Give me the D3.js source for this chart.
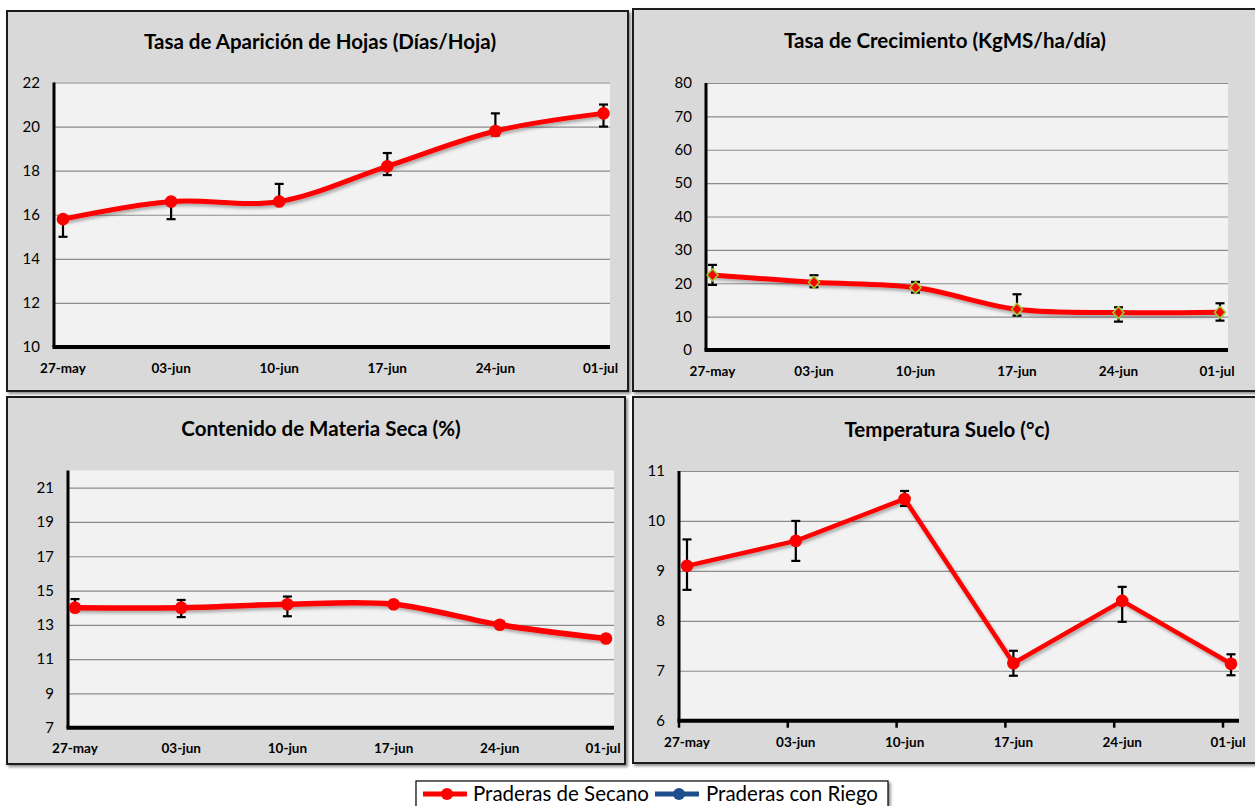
<!DOCTYPE html>
<html>
<head>
<meta charset="utf-8">
<script src="https://cdn.jsdelivr.net/npm/d3@7"></script>
<style>
  body { margin: 0; background: #fff; }
  svg { display: block; font-family: Lato, "Open Sans", sans-serif; }
</style>
</head>
<body>
<svg id="chart" width="1255" height="806"></svg>
<script>
// data
var dates = ["27-may", "03-jun", "10-jun", "17-jun", "24-jun", "01-jul"];

var hojas   = [15.8, 16.6, 16.6, 18.2, 19.8, 20.6];
var hojasHi = [15.8, 16.6, 17.4, 18.8, 20.6, 21.0];
var hojasLo = [15.0, 15.8, 16.6, 17.8, 19.6, 20.0];

var crec   = [22.5, 20.3, 18.7, 12.2, 11.2, 11.3];
var crecHi = [25.5, 22.4, 20.4, 16.7, 12.8, 14.0];
var crecLo = [19.5, 18.8, 17.2, 10.3, 8.5, 8.8];

var materia   = [14.0, 14.0, 14.2, 14.2, 13.0, 12.2];
var materiaHi = [14.5, 14.45, 14.65, 14.35, 13.0, 12.2];
var materiaLo = [14.0, 13.45, 13.5, 14.05, 13.0, 12.2];

var temp   = [9.1, 9.6, 10.44, 7.15, 8.4, 7.14];
var tempHi = [9.63, 10.0, 10.6, 7.4, 8.68, 7.33];
var tempLo = [8.62, 9.2, 10.3, 6.9, 7.98, 6.91];

var ticksHojas = [10, 12, 14, 16, 18, 20, 22];
var ticksCrec = [0, 10, 20, 30, 40, 50, 60, 70, 80];
var ticksMateria = [7, 9, 11, 13, 15, 17, 19, 21];
var ticksTemp = [6, 7, 8, 9, 10, 11];

var seriesNames = ["Praderas de Secano", "Praderas con Riego"];
var seriesColors = ["#ff0000", "#1f4e8c"];

var svg = d3.select("#chart");

var defs = svg.append("defs");
var f = defs.append("filter").attr("id", "shadow")
    .attr("x", "-10%").attr("y", "-20%").attr("width", "130%").attr("height", "150%");
f.append("feDropShadow").attr("dx", 1.5).attr("dy", 2.5).attr("stdDeviation", 1.5)
    .attr("flood-color", "#000").attr("flood-opacity", 0.3);
var fb = defs.append("filter").attr("id", "boxshadow");
fb.append("feDropShadow").attr("dx", 2).attr("dy", 2).attr("stdDeviation", 1.5)
    .attr("flood-color", "#000").attr("flood-opacity", 0.45);

function drawPanel(p) {
  var g = svg.append("g");

  // panel frame
  g.append("rect")
      .attr("x", p.box[0]).attr("y", p.box[1])
      .attr("width", p.box[2]).attr("height", p.box[3])
      .attr("fill", "#d9d9d9")
      .attr("stroke", "#1a1a1a").attr("stroke-width", 2)
      .attr("filter", "url(#boxshadow)");

  g.append("text")
      .attr("x", p.titleX).attr("y", p.titleY)
      .attr("text-anchor", "middle")
      .attr("font-size", 20.5).attr("font-weight", "bold")
      .attr("fill", "#000")
      .text(p.title);

  var x = d3.scalePoint().domain(dates).range([p.plot[0] + p.inset[0], p.plot[1] - p.inset[1]]);
  var y = d3.scaleLinear().domain(p.domain).range([p.plot[3], p.plot[2]]);

  g.append("rect")
      .attr("x", p.plot[0]).attr("y", p.plot[2])
      .attr("width", p.plot[1] - p.plot[0]).attr("height", p.plot[3] - p.plot[2])
      .attr("fill", "#f2f2f2");

  // gridlines + y labels
  g.append("g")
      .attr("transform", "translate(" + p.plot[0] + ",0)")
      .call(d3.axisLeft(y).tickValues(p.ticks).tickFormat(d3.format("d"))
        .tickSize(-(p.plot[1] - p.plot[0])).tickPadding(14))
      .call(function(a) {
        a.select(".domain").remove();
        a.selectAll(".tick line").attr("stroke", "#8c8c8c").attr("stroke-width", 1.2)
          .filter(function(d) { return d === p.domain[0]; }).remove();
        a.selectAll(".tick text").attr("font-size", 15).attr("fill", "#000")
          .attr("font-family", "Lato, sans-serif");
      });

  // axis lines
  g.append("line")
      .attr("x1", p.plot[0]).attr("x2", p.plot[0])
      .attr("y1", p.plot[2]).attr("y2", p.plot[3])
      .attr("stroke", "#000").attr("stroke-width", 3);
  g.append("line")
      .attr("x1", p.plot[0] - 1.5).attr("x2", p.plot[1])
      .attr("y1", p.plot[3]).attr("y2", p.plot[3])
      .attr("stroke", "#000").attr("stroke-width", 4);

  if (p.xTicks) {
    g.selectAll(".xt").data(dates).enter().append("line")
        .attr("x1", function(d) { return x(d) - 8; })
        .attr("x2", function(d) { return x(d) - 8; })
        .attr("y1", p.plot[3]).attr("y2", p.plot[3] + 7)
        .attr("stroke", "#000").attr("stroke-width", 2.5);
  }

  g.selectAll(".xl").data(dates).enter().append("text")
      .attr("x", function(d, i) { return x(d) + (i === dates.length - 1 ? -3 : 0); })
      .attr("y", p.labelY)
      .attr("text-anchor", "middle")
      .attr("font-size", 13.5).attr("font-weight", "bold")
      .attr("fill", "#000")
      .text(function(d) { return d; });

  // error bars
  var eb = g.append("g").attr("stroke", "#000").attr("stroke-width", 2.2);
  dates.forEach(function(d, i) {
    var cx = x(d);
    eb.append("line").attr("x1", cx).attr("x2", cx)
        .attr("y1", y(p.hi[i])).attr("y2", y(p.lo[i]));
    if (p.hi[i] > p.values[i])
      eb.append("line").attr("x1", cx - 4.5).attr("x2", cx + 4.5)
          .attr("y1", y(p.hi[i])).attr("y2", y(p.hi[i]));
    if (p.lo[i] < p.values[i])
      eb.append("line").attr("x1", cx - 4.5).attr("x2", cx + 4.5)
          .attr("y1", y(p.lo[i])).attr("y2", y(p.lo[i]));
  });

  var line = d3.line()
      .x(function(d, i) { return x(dates[i]); })
      .y(function(d) { return y(d); })
      .curve(p.smooth ? d3.curveCardinal.tension(0) : d3.curveLinear);

  g.append("path")
      .datum(p.values)
      .attr("d", line)
      .attr("fill", "none")
      .attr("stroke", seriesColors[0])
      .attr("stroke-width", p.lineWidth)
      .attr("stroke-linejoin", "round")
      .attr("filter", "url(#shadow)");

  if (p.diamond) {
    g.selectAll(".mk").data(p.values).enter().append("path")
        .attr("transform", function(d, i) { return "translate(" + x(dates[i]) + "," + y(d) + ")"; })
        .attr("d", "M0,-6L5.5,0L0,6L-5.5,0Z")
        .attr("fill", seriesColors[0])
        .attr("stroke", "#9acd32").attr("stroke-width", 1.5);
  } else {
    g.selectAll(".mk").data(p.values).enter().append("circle")
        .attr("cx", function(d, i) { return x(dates[i]); })
        .attr("cy", function(d) { return y(d); })
        .attr("r", 6.3)
        .attr("fill", seriesColors[0]);
  }
}

drawPanel({
  box: [7, 11, 621, 380], title: "Tasa de Aparición de Hojas (Días/Hoja)", titleX: 320, titleY: 49,
  plot: [54, 610, 82.5, 347], inset: [9, 6.5], domain: [10, 22], ticks: ticksHojas,
  values: hojas, hi: hojasHi, lo: hojasLo, smooth: true, lineWidth: 5, labelY: 373
});
drawPanel({
  box: [633, 9, 640, 382], title: "Tasa de Crecimiento (KgMS/ha/día)", titleX: 945, titleY: 48,
  plot: [706, 1228, 83, 350], inset: [6.5, 8], domain: [0, 80], ticks: ticksCrec,
  values: crec, hi: crecHi, lo: crecLo, smooth: true, lineWidth: 5, labelY: 376, diamond: true
});
drawPanel({
  box: [7, 397, 618, 367], title: "Contenido de Materia Seca (%)", titleX: 321, titleY: 436,
  plot: [68, 614, 470.5, 727.7], inset: [7, 8], domain: [7, 22], ticks: ticksMateria,
  values: materia, hi: materiaHi, lo: materiaLo, smooth: true, lineWidth: 5.5, labelY: 753
});
drawPanel({
  box: [633, 397, 640, 366], title: "Temperatura Suelo (°c)", titleX: 947, titleY: 437,
  plot: [679, 1239, 471, 720.7], inset: [8, 8], domain: [6, 11], ticks: ticksTemp,
  values: temp, hi: tempHi, lo: tempLo, smooth: false, lineWidth: 4.5, labelY: 747, xTicks: true
});

// legend
var lg = svg.append("g");
lg.append("rect")
    .attr("x", 416).attr("y", 781).attr("width", 472).attr("height", 30)
    .attr("fill", "#fff").attr("stroke", "#000").attr("stroke-width", 1.2)
    .attr("filter", "url(#boxshadow)");
var legX = [423, 655], textX = [473, 706];
seriesNames.forEach(function(name, i) {
  lg.append("line")
      .attr("x1", legX[i]).attr("x2", legX[i] + 44)
      .attr("y1", 794).attr("y2", 794)
      .attr("stroke", seriesColors[i]).attr("stroke-width", 5);
  lg.append("circle")
      .attr("cx", legX[i] + 24).attr("cy", 794).attr("r", 6)
      .attr("fill", seriesColors[i]);
  lg.append("text")
      .attr("x", textX[i]).attr("y", 801)
      .attr("font-size", 20.5).attr("fill", "#000")
      .text(name);
});
</script>
</body>
</html>
